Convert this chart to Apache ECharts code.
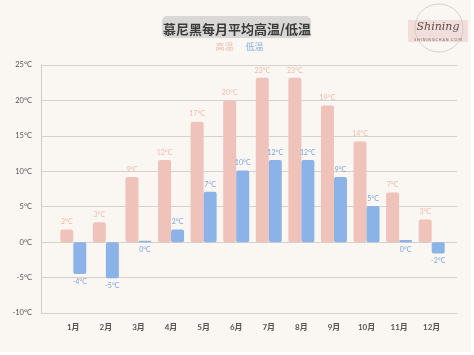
<!DOCTYPE html>
<html><head><meta charset="utf-8">
<script src="https://cdn.jsdelivr.net/npm/echarts@6/dist/echarts.min.js"></script>
<style>html,body{margin:0;padding:0;background:#fff;}#c{width:474px;height:355px;}</style>
</head><body><div id="c"></div>
<script>
const months = ['1月','2月','3月','4月','5月','6月','7月','8月','9月','10月','11月','12月'];
const highTemps = [1.8, 2.8, 9.2, 11.6, 17.0, 20.0, 23.2, 23.2, 19.3, 14.2, 7.0, 3.2];
const lowTemps = [-4.5, -5.1, 0.2, 1.8, 7.1, 10.1, 11.6, 11.6, 9.2, 5.1, 0.3, -1.6];
const yTicks = {min: -10, max: 25, interval: 5};
const titleText = '慕尼黑每月平均高温/低温';
const seriesNames = ['高温', '低温'];

const font = 'Lato, "Noto Sans CJK SC", sans-serif';
const chart = echarts.init(document.getElementById('c'), null, {renderer: 'canvas'});
const lbl = (color) => ({show: true, position: 'top', distance: 4, fontSize: 7, color: color, fontFamily: font,
  formatter: p => Math.round(p.value) + '°C'});
chart.setOption({
  backgroundColor: '#ffffff',
  animation: false,
  graphic: [
    {type: 'rect', shape: {x: 0, y: 0, width: 471, height: 352}, style: {fill: '#faf7f3'}, z: -10},
    {type: 'rect', shape: {x: 162, y: 16, width: 149, height: 22, r: 5}, style: {fill: '#d9d8d6'}, z: 1},
    {type: 'rect', shape: {x: 408, y: 20, width: 60, height: 22}, style: {fill: '#f1dedb'}, z: 1},
    {type: 'circle', shape: {cx: 439, cy: 28, r: 24}, style: {fill: 'transparent', stroke: '#cdc6c2', lineWidth: 0.8}, z: 2},
    {type: 'text', x: 438, y: 27, style: {text: 'Shining', fontFamily: '"DejaVu Serif", serif', fontStyle: 'italic', fontSize: 11, fill: '#5e4e4e', align: 'center', verticalAlign: 'middle'}, z: 3},
    {type: 'text', x: 438, y: 40, style: {text: 'S H I N I N G C H A N . C O M', fontFamily: font, fontSize: 3.6, fill: '#7a6a68', align: 'center', verticalAlign: 'middle'}, z: 3}
  ],
  title: {text: titleText, left: 'center', top: 18, textStyle: {fontSize: 13, fontWeight: 'bold', color: '#3a3a3a', fontFamily: '"Noto Sans CJK SC", sans-serif'}},
  legend: {top: 37, left: 'center', itemWidth: 0, itemHeight: 0, itemGap: 7, icon: 'rect',
    textStyle: {fontSize: 9, fontFamily: '"Noto Sans CJK SC", sans-serif'},
    data: [{name: seriesNames[0], textStyle: {color: '#f0b9af'}}, {name: seriesNames[1], textStyle: {color: '#86aee3'}}]},
  grid: [
    {left: 41, right: 17, top: 65, bottom: 42},
    {left: 57, right: 26, top: 65, bottom: 42}
  ],
  xAxis: [
    {type: 'category', gridIndex: 0, data: months, show: false},
    {type: 'category', gridIndex: 1, data: months, axisLine: {show: false}, axisTick: {show: false},
      axisLabel: {fontSize: 8, fontWeight: 'bold', color: '#555', margin: 10, fontFamily: font}}
  ],
  yAxis: [
    {type: 'value', gridIndex: 0, min: yTicks.min, max: yTicks.max, interval: yTicks.interval,
      axisLine: {show: true, lineStyle: {color: '#cfcac5'}}, axisTick: {show: false},
      splitLine: {lineStyle: {color: '#d6d1cc', width: 1}},
      axisLabel: {fontSize: 7.5, color: '#555', margin: 9, fontFamily: font, formatter: v => v + '°C'}},
    {type: 'value', gridIndex: 1, min: yTicks.min, max: yTicks.max, interval: yTicks.interval, show: false, splitLine: {show: false}}
  ],
  series: [
    {name: seriesNames[0], type: 'bar', xAxisIndex: 1, yAxisIndex: 1, data: highTemps, barWidth: 13, barGap: '0%',
      itemStyle: {color: '#f0c3ba', borderRadius: 2}, label: lbl('#f0b9af')},
    {name: seriesNames[1], type: 'bar', xAxisIndex: 1, yAxisIndex: 1, barWidth: 13, barGap: '0%',
      data: lowTemps.map(v => ({value: v, label: {position: v < 1 ? 'bottom' : 'top'}})),
      itemStyle: {color: '#8cb3e7', borderRadius: 2}, label: lbl('#7aa5dd')}
  ]
});
</script></body></html>
